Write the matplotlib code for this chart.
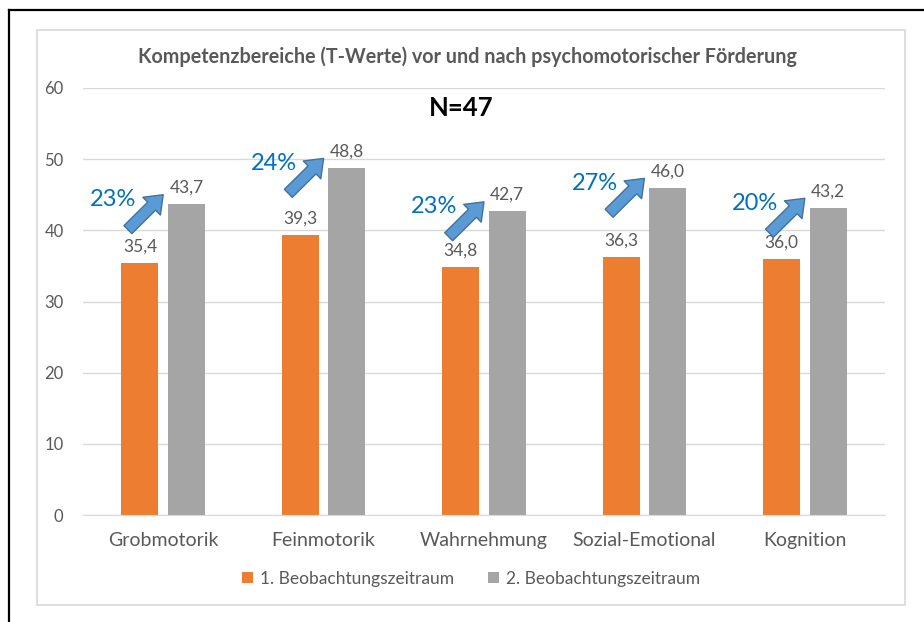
import matplotlib
matplotlib.use("Agg")
import matplotlib.pyplot as plt
import numpy as np
from matplotlib.patches import Rectangle
from matplotlib.lines import Line2D

# --- data ---
categories = ["Grobmotorik", "Feinmotorik", "Wahrnehmung", "Sozial-Emotional", "Kognition"]
zeitraum_1 = [35.4, 39.3, 34.8, 36.3, 36.0]
zeitraum_2 = [43.7, 48.8, 42.7, 46.0, 43.2]
series_names = ["1. Beobachtungszeitraum", "2. Beobachtungszeitraum"]
title = "Kompetenzbereiche (T-Werte) vor und nach psychomotorischer Förderung"
n_label = "N=47"

ORANGE = "#ED7D31"
GREY = "#A5A5A5"
TEXT = "#595959"
GRID = "#D9D9D9"

plt.rcParams["font.family"] = ["Lato", "DejaVu Sans"]

fig = plt.figure(figsize=(9.24, 6.22), dpi=100)
ax = fig.add_axes([83 / 924, 1 - 515 / 622, 802 / 924, 427 / 622])

x = np.arange(len(categories))
w = 0.23
off = 0.145
b1 = ax.bar(x - off, zeitraum_1, w, color=ORANGE, label=series_names[0], zorder=2)
b2 = ax.bar(x + off, zeitraum_2, w, color=GREY, label=series_names[1], zorder=2)

# value labels (German decimal comma)
for bars in (b1, b2):
    for r in bars:
        v = r.get_height()
        ax.annotate(f"{v:.1f}".replace(".", ","), (r.get_x() + r.get_width() / 2, v),
                    xytext=(0, 6), textcoords="offset points",
                    ha="center", va="bottom", fontsize=12.5, color=TEXT)

# arrows + percent increase
for i, (a, b) in enumerate(zip(zeitraum_1, zeitraum_2)):
    head = (i + 0.0, b + 1.3)
    tail = (i - 0.22, b + 1.3 - 4.9)
    ax.annotate("", xy=head, xytext=tail,
                arrowprops=dict(arrowstyle="simple,tail_width=0.45,head_width=1.0,head_length=0.65",
                                mutation_scale=18, fc="#5B9BD5", ec="#41719C", lw=1,
                                shrinkA=0, shrinkB=0), zorder=3)
    pct = round((b / a - 1) * 100)
    ax.text(i - 0.31, b + 1.3 - 0.7, f"{pct}%", ha="center", va="center",
            fontsize=17, color="#0070C0", zorder=3)

ax.text((461 - 83) / 802, (515 - 108) / 427, n_label, transform=ax.transAxes,
        ha="center", va="center", fontsize=18.5, fontweight="bold", color="black")

ax.set_ylim(0, 60)
ax.set_xlim(-0.5, len(categories) - 0.5)
ax.set_yticks(range(0, 61, 10))
ax.set_xticks(x)
ax.set_xticklabels(categories)
ax.yaxis.grid(True, color=GRID, lw=1, zorder=0)
ax.set_axisbelow(True)
for s in ("top", "right", "left"):
    ax.spines[s].set_visible(False)
ax.spines["bottom"].set_color(GRID)
ax.tick_params(axis="y", length=0, pad=14, labelsize=12, labelcolor=TEXT)
ax.tick_params(axis="x", length=0, pad=12, labelsize=14, labelcolor=TEXT)

fig.text(468 / 924, 1 - 57 / 622, title, ha="center", va="center",
         fontsize=14.2, fontweight="bold", color=TEXT)

fig.legend(handles=[b1, b2], loc="center", bbox_to_anchor=(471 / 924, 1 - 579 / 622),
           ncol=2, frameon=False, fontsize=12.5, labelcolor=TEXT,
           handlelength=0.6, handleheight=0.6, handletextpad=0.4, columnspacing=2.0)

# chart area border and outer frame
fig.add_artist(Rectangle((37 / 924, 1 - 605 / 622), 868 / 924, 575 / 622,
                         transform=fig.transFigure, fill=False, ec=GRID, lw=1.2))
fig.add_artist(Line2D([8.5 / 924, 8.5 / 924], [0, 1 - 10 / 622], transform=fig.transFigure,
                      color="black", lw=1.6))
fig.add_artist(Line2D([8.5 / 924, 1], [1 - 10 / 622, 1 - 10 / 622], transform=fig.transFigure,
                      color="black", lw=1.6))

fig.savefig("out.png", dpi=100)
